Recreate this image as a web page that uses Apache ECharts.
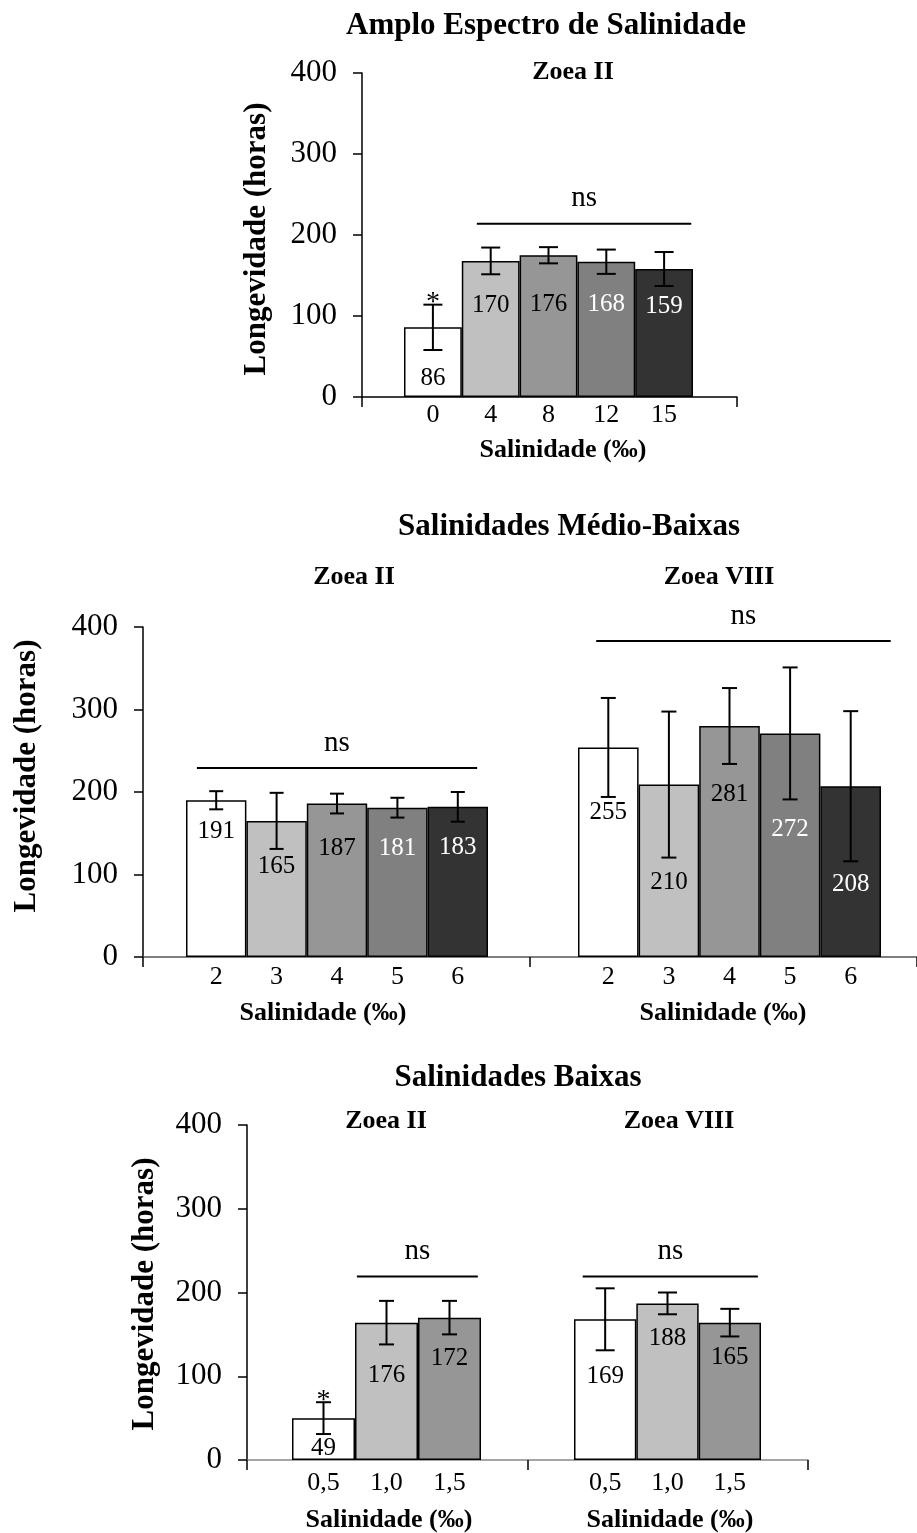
<!DOCTYPE html>
<html>
<head>
<meta charset="utf-8">
<script src="https://cdn.jsdelivr.net/npm/echarts@6/dist/echarts.min.js"></script>
<style>
  html, body { margin: 0; padding: 0; background: #fff; }
  #chart { width: 917px; height: 1533px; }
</style>
</head>
<body>
<div id="chart"></div>
<script>
// ---- data ----
// Amplo Espectro de Salinidade, Zoea II
const cats1 = ['0', '4', '8', '12', '15'];
const mean1 = [86, 168, 175, 167, 158];
const err1 = [28, 16.5, 10, 15, 21];
const text1 = ['86', '170', '176', '168', '159'];
const sig1 = ['*', '', '', '', ''];
const ns1 = [0.76, 4.47, 214];        // from bar, to bar, level

// Salinidades Medio-Baixas, Zoea II / Zoea VIII
const cats2 = ['2', '3', '4', '5', '6'];
const mean2a = [190, 165, 186, 181, 182];
const err2a = [11, 34, 12, 12, 18];
const text2a = ['191', '165', '187', '181', '183'];
const ns2a = [-0.32, 4.32, 229];
const mean2b = [254, 209, 280, 271, 207];
const err2b = [60, 88.5, 46, 80, 91];
const text2b = ['255', '210', '281', '272', '208'];
const ns2b = [-0.2, 4.66, 383];

// Salinidades Baixas, Zoea II / Zoea VIII
const cats3 = ['0,5', '1,0', '1,5'];
const mean3a = [50, 164, 170];
const err3a = [19, 26, 20];
const text3a = ['49', '176', '172'];
const sig3a = ['*', '', ''];
const ns3a = [0.53, 2.45, 219];
const mean3b = [168, 187, 164];
const err3b = [37, 13, 16.5];
const text3b = ['169', '188', '165'];
const ns3b = [-0.36, 2.45, 219];

const yTicks = [0, 100, 200, 300, 400];

// ---- styling ----
const FONT = 'Liberation Serif';
const COLORS = ['#ffffff', '#c0c0c0', '#969696', '#808080', '#333333'];
const LABEL_COLORS = ['#000', '#000', '#000', '#fff', '#fff'];

let grids = [], xAxes = [], yAxes = [], series = [];

function addFrame(f) {
  let gi = grids.length;
  grids.push({ left: f.left, top: f.top, width: f.width, height: f.height });
  xAxes.push({
    gridIndex: gi, type: 'value', min: 0, max: f.parts, interval: 1,
    axisLine: { show: true, lineStyle: { color: f.lineColor, width: 1.5 } },
    axisTick: { show: true, length: 10, lineStyle: { color: '#000', width: 1.5 } },
    axisLabel: { show: false }, splitLine: { show: false }
  });
  yAxes.push({
    gridIndex: gi, type: 'value', min: 0, max: 400, interval: 100,
    axisLine: { show: true, lineStyle: { color: '#000', width: 1.5 } },
    axisTick: { show: true, length: 9, lineStyle: { color: '#000', width: 1.5 } },
    axisLabel: { fontFamily: FONT, fontSize: 31, color: '#000', margin: 25,
      formatter: v => yTicks.indexOf(v) >= 0 ? String(v) : '' },
    splitLine: { show: false }
  });
}

function addGroup(g) {
  let gi = grids.length;
  grids.push({ left: g.left, top: g.top, width: g.width, height: g.height });
  xAxes.push({
    gridIndex: gi, type: 'category', data: g.cats,
    axisLine: { show: false }, axisTick: { show: false },
    axisLabel: { fontFamily: FONT, fontSize: 26, color: '#000', margin: g.labelMargin }
  });
  yAxes.push({ gridIndex: gi, type: 'value', min: 0, max: 400, show: false, splitLine: { show: false } });
  let ai = xAxes.length - 1;

  series.push({
    type: 'bar', xAxisIndex: ai, yAxisIndex: ai, barWidth: '100%',
    itemStyle: { borderColor: '#000', borderWidth: 1.5 },
    label: {
      show: true, position: 'insideTop', distance: 0, verticalAlign: 'middle',
      fontFamily: FONT, fontSize: 25,
      formatter: p => g.text[p.dataIndex]
    },
    data: g.mean.map((v, i) => ({
      value: v,
      itemStyle: { color: COLORS[i] },
      label: { color: g.whiteText ? LABEL_COLORS[i] : '#000', offset: [0, g.labelDy[i]] }
    })),
    z: 2
  });

  // error bars (+ significance mark)
  series.push({
    type: 'custom', xAxisIndex: ai, yAxisIndex: ai, z: 5,
    data: g.mean.map((v, i) => [i, v, g.err[i]]),
    renderItem: (params, api) => {
      let x = api.value(0), m = api.value(1), e = api.value(2);
      let top = api.coord([x, m + e]), bot = api.coord([x, m - e]);
      let c = g.cap / 2;
      let st = { stroke: '#000', lineWidth: 2 };
      let ch = [
        { type: 'line', shape: { x1: top[0], y1: top[1], x2: bot[0], y2: bot[1] }, style: st },
        { type: 'line', shape: { x1: top[0] - c, y1: top[1], x2: top[0] + c, y2: top[1] }, style: st },
        { type: 'line', shape: { x1: bot[0] - c, y1: bot[1], x2: bot[0] + c, y2: bot[1] }, style: st }
      ];
      if (g.sig && g.sig[params.dataIndex]) {
        ch.push({ type: 'text', style: { text: g.sig[params.dataIndex], x: top[0], y: top[1] - 2,
          align: 'center', verticalAlign: 'middle', fontFamily: FONT, fontSize: 28, fill: '#000' } });
      }
      return { type: 'group', children: ch };
    }
  });

  // "ns" bracket
  series.push({
    type: 'custom', xAxisIndex: ai, yAxisIndex: ai, z: 5,
    data: [[0, g.ns[2]]],
    renderItem: (params, api) => {
      let c0 = api.coord([0, g.ns[2]]);
      let band = api.size([1, 0])[0];
      let x1 = c0[0] + g.ns[0] * band, x2 = c0[0] + g.ns[1] * band;
      return { type: 'group', children: [
        { type: 'line', shape: { x1: x1, y1: c0[1], x2: x2, y2: c0[1] }, style: { stroke: '#000', lineWidth: 2 } },
        { type: 'text', style: { text: 'ns', x: (x1 + x2) / 2, y: c0[1] - 25, align: 'center',
          verticalAlign: 'middle', fontFamily: FONT, fontSize: 29, fill: '#000' } }
      ] };
    }
  });
}

// panel 1
addFrame({ left: 362, top: 73, width: 375, height: 324, parts: 1, lineColor: '#000' });
addGroup({ left: 404, top: 73, width: 289, height: 324, cats: cats1, mean: mean1, err: err1, text: text1,
  sig: sig1, ns: ns1, cap: 19, labelMargin: 5, whiteText: true, labelDy: [51, 45, 49, 43, 37] });

// panel 2
addFrame({ left: 143, top: 627, width: 782, height: 330, parts: 2, lineColor: '#555' });
addGroup({ left: 186, top: 627, width: 302, height: 330, cats: cats2, mean: mean2a, err: err2a, text: text2a,
  ns: ns2a, cap: 14, labelMargin: 7, whiteText: true, labelDy: [31, 46, 45, 41, 41] });
addGroup({ left: 578, top: 627, width: 303, height: 330, cats: cats2, mean: mean2b, err: err2b, text: text2b,
  ns: ns2b, cap: 15, labelMargin: 7, whiteText: true, labelDy: [65, 98, 68, 96, 98] });

// panel 3
addFrame({ left: 247, top: 1125, width: 561, height: 335, parts: 2, lineColor: '#888' });
addGroup({ left: 292, top: 1125, width: 189, height: 335, cats: cats3, mean: mean3a, err: err3a, text: text3a,
  sig: sig3a, ns: ns3a, cap: 15, labelMargin: 10, whiteText: false, labelDy: [30, 53, 41] });
addGroup({ left: 574, top: 1125, width: 187, height: 335, cats: cats3, mean: mean3b, err: err3b, text: text3b,
  ns: ns3b, cap: 19, labelMargin: 10, whiteText: false, labelDy: [57, 35, 35] });

function txt(s, x, y, size, bold, rot) {
  return { type: 'text', x: x, y: y, rotation: rot || 0, z: 10,
    style: { text: s, align: 'center', verticalAlign: 'middle',
      font: (bold ? 'bold ' : '') + size + 'px "' + FONT + '"', fill: '#000' } };
}

let texts = [
  txt('Amplo Espectro de Salinidade', 546, 26, 31, true),
  txt('Zoea II', 573, 72, 26, true),
  txt('Salinidade (‰)', 563, 450, 26, true),
  txt('Longevidade (horas)', 257, 239, 31, true, Math.PI / 2),

  txt('Salinidades Médio-Baixas', 569, 527, 31, true),
  txt('Zoea II', 354, 577, 26, true),
  txt('Zoea VIII', 719, 577, 26, true),
  txt('Salinidade (‰)', 323, 1013, 26, true),
  txt('Salinidade (‰)', 723, 1013, 26, true),
  txt('Longevidade (horas)', 27, 776, 31, true, Math.PI / 2),

  txt('Salinidades Baixas', 518, 1078, 31, true),
  txt('Zoea II', 386, 1121, 26, true),
  txt('Zoea VIII', 679, 1121, 26, true),
  txt('Salinidade (‰)', 389, 1520, 26, true),
  txt('Salinidade (‰)', 670, 1520, 26, true),
  txt('Longevidade (horas)', 145, 1294, 31, true, Math.PI / 2)
];

let myChart = echarts.init(document.getElementById('chart'));
let option = {
  backgroundColor: '#fff',
  animation: false,
  textStyle: { fontFamily: FONT },
  grid: grids,
  xAxis: xAxes,
  yAxis: yAxes,
  series: series,
  graphic: texts
};
myChart.setOption(option);
</script>
</body>
</html>
